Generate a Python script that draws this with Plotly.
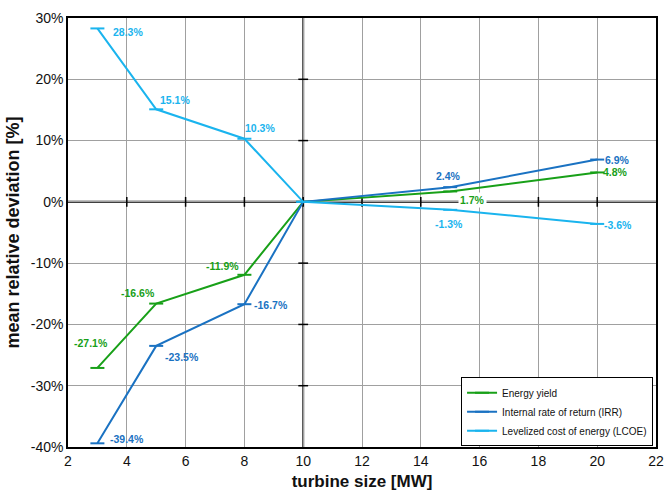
import plotly.graph_objects as go

turbine_mw = [3, 5, 8, 10, 15, 20]
energy_yield = [-27.1, -16.6, -11.9, 0.0, 1.7, 4.8]
irr = [-39.4, -23.5, -16.7, 0.0, 2.4, 6.9]
lcoe = [28.3, 15.1, 10.3, 0.0, -1.3, -3.6]

series_names = ["Energy yield", "Internal rate of return (IRR)", "Levelized cost of energy (LCOE)"]
x_ticks = [2, 4, 6, 8, 10, 12, 14, 16, 18, 20, 22]
y_ticks = [-40, -30, -20, -10, 0, 10, 20, 30]
y_tick_labels = ["-40%", "-30%", "-20%", "-10%", "0%", "10%", "20%", "30%"]

colors = ["#18a018", "#1a72c2", "#1ab4ee"]
# label offsets (px) per point, None = no label
offsets = [
    [(-6, 25), (-18, 11), (-22, 9), None, (22, -9), (18, 0)],
    [(30, 4), (26, -11), (27, -1), None, (-2, 11), (20, 0)],
    [(31, -4), (19, 9), (16, 11), None, (-1, -14), (21, -1)],
]

fig = go.Figure()

# axis cross lines at x=10 and y=0
fig.add_shape(type="line", x0=10, x1=10, y0=-40, y1=30, line=dict(color="#333333", width=2), layer="below")
fig.add_shape(type="line", x0=2, x1=22, y0=0, y1=0, line=dict(color="black", width=2), layer="below")
fig.add_trace(go.Scatter(x=[v for v in x_ticks if v not in (2, 22)], y=[0] * 9, mode="markers",
                         marker=dict(symbol="line-ns", size=7, line=dict(color="black", width=1.5)),
                         showlegend=False, hoverinfo="skip"))
fig.add_trace(go.Scatter(x=[10] * 6, y=[v for v in y_ticks if v not in (-40, 30)], mode="markers",
                         marker=dict(symbol="line-ew", size=7, line=dict(color="black", width=1.5)),
                         showlegend=False, hoverinfo="skip"))

annotations = []
for name, vals, col, offs in zip(series_names, [energy_yield, irr, lcoe], colors, offsets):
    fig.add_trace(go.Scatter(
        x=turbine_mw, y=vals, mode="lines+markers", name=name,
        line=dict(color=col, width=2),
        marker=dict(symbol="line-ew", size=10, color=col, line=dict(color=col, width=2)),
    ))
    for xv, yv, off in zip(turbine_mw, vals, offs):
        if off is None:
            continue
        a = dict(x=xv, y=yv, text=f"{yv:.1f}%", showarrow=False, xshift=off[0], yshift=off[1],
                 font=dict(family="Liberation Sans, Arial", size=10.5, color=col, weight="bold"))
        if name == "Energy yield" and xv == 15:
            a["bgcolor"] = "white"
        annotations.append(a)

fig.update_layout(
    width=665, height=497,
    margin=dict(l=68, r=9, t=18, b=50, autoexpand=False),
    paper_bgcolor="white", plot_bgcolor="white",
    font=dict(family="Liberation Sans, Arial", color="#111111"),
    annotations=annotations,
    showlegend=True,
    legend=dict(x=0.995, y=0.002, xanchor="right", yanchor="bottom",
                bgcolor="white", bordercolor="black", borderwidth=1,
                font=dict(size=10, color="#111111"), itemwidth=30,
                tracegroupgap=0),
    xaxis=dict(range=[2, 22], tickvals=x_ticks, showgrid=True, gridcolor="#a0a0a0", gridwidth=1,
               showline=True, linecolor="black", linewidth=1.5, mirror=True, zeroline=False,
               ticks="", tickfont=dict(size=14), automargin=False,
               title=dict(text="turbine size [MW]", font=dict(size=17, weight="bold"), standoff=8)),
    yaxis=dict(range=[-40, 30], tickvals=y_ticks, ticktext=y_tick_labels, showgrid=True,
               gridcolor="#a0a0a0", gridwidth=1, showline=True, linecolor="black", linewidth=1.5,
               mirror=True, zeroline=False, ticks="", tickfont=dict(size=14), automargin=False,
               title=dict(text="mean relative deviation [%]", font=dict(size=18, weight="bold"), standoff=6)),
)

fig.write_html("out.html")
